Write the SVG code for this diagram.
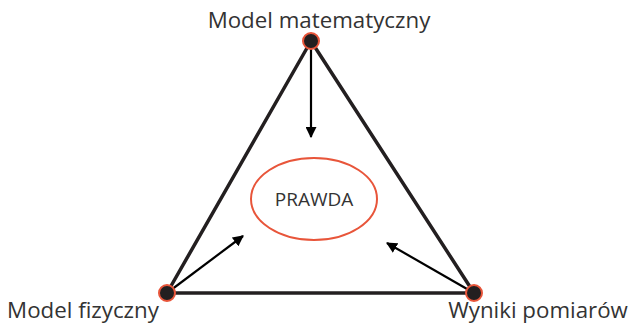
<svg xmlns="http://www.w3.org/2000/svg" width="630" height="324" viewBox="0 0 630 324">
<defs>
<marker id="ah" viewBox="0 0 10 10" refX="9" refY="5" markerWidth="5" markerHeight="5" orient="auto" markerUnits="strokeWidth">
<path d="M0,0 L10,5 L0,10 z" fill="#000"/>
</marker>
<style>
.lbl{font-family:"Open Sans","Liberation Sans",sans-serif;fill:#333;}
.node{fill:#231f20;stroke:#e8553a;stroke-width:2;}
.edge{stroke:#231f20;stroke-width:3.5;fill:none;}
.arr{stroke:#000;stroke-width:2.2;fill:none;marker-end:url(#ah);}
</style>
</defs>
<rect width="630" height="324" fill="#fff"/>
<g id="connectors">
<polygon class="edge" points="311,41 167,293 474,293" stroke-linejoin="round"/>
<line class="arr" x1="311" y1="49" x2="311" y2="137"/>
<line class="arr" x1="167" y1="293" x2="243" y2="236"/>
<line class="arr" x1="474" y1="293" x2="387" y2="243"/>
</g>
<g id="prawda">
<ellipse cx="314" cy="199" rx="63" ry="41" fill="#fff" stroke="#e8553a" stroke-width="2"/>
<text class="lbl" x="314" y="206" text-anchor="middle" font-size="19">PRAWDA</text>
</g>
<g id="model-matematyczny">
<circle class="node" cx="311" cy="41" r="8"/>
<text class="lbl" x="319" y="28" text-anchor="middle" font-size="22.3">Model matematyczny</text>
</g>
<g id="model-fizyczny">
<circle class="node" cx="167" cy="293" r="8"/>
<text class="lbl" x="83" y="318" text-anchor="middle" font-size="22.3">Model fizyczny</text>
</g>
<g id="wyniki-pomiarow">
<circle class="node" cx="474" cy="293" r="8"/>
<text class="lbl" x="538" y="318" text-anchor="middle" font-size="22.3">Wyniki pomiarów</text>
</g>
</svg>
